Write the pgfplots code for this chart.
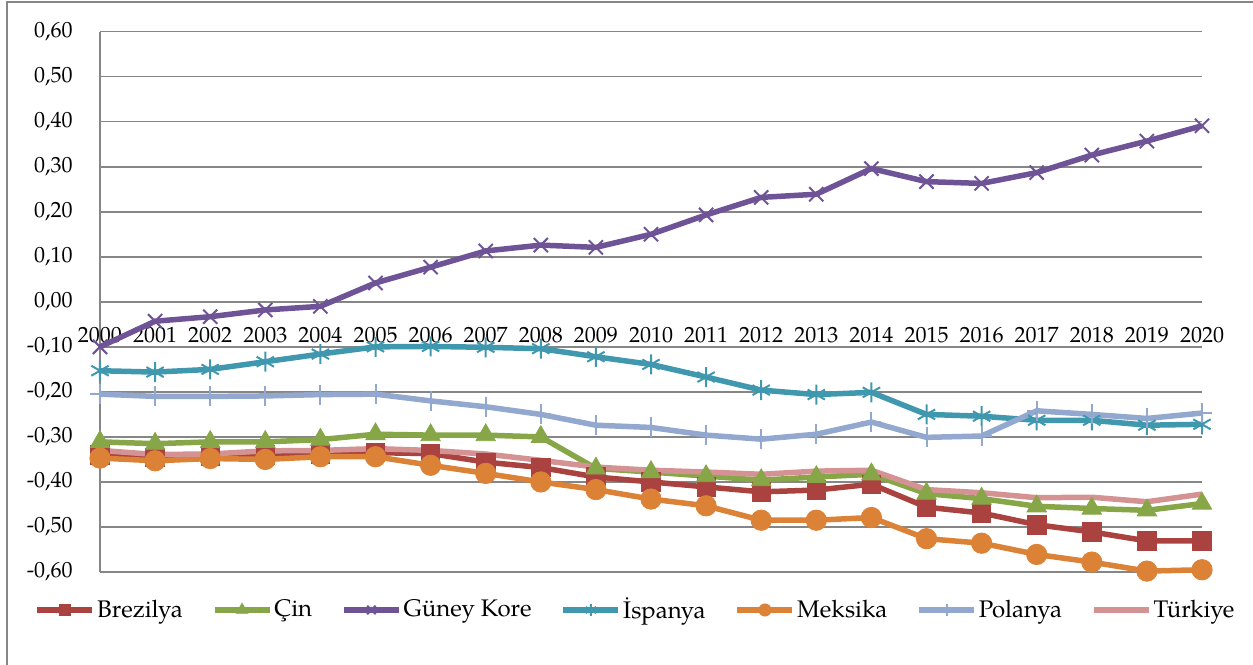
\documentclass[border=0pt]{standalone}
\usepackage{fontspec}
\setmainfont{TeX Gyre Pagella}
\usepackage{pgfplots}
\usepackage{pgfplotstable}
\pgfplotsset{compat=1.18}
\definecolor{gridc}{RGB}{134,134,134}
\definecolor{cBR}{RGB}{170,66,63}
\definecolor{cCN}{RGB}{134,166,71}
\definecolor{cKR}{RGB}{110,84,150}
\definecolor{cES}{RGB}{64,152,175}
\definecolor{cMX}{RGB}{220,130,55}
\definecolor{cPL}{RGB}{146,168,207}
\definecolor{cTR}{RGB}{212,146,146}
\pgfplotstableread{
year br cn kr es mx pl tr
2000 -0.340 -0.311 -0.100 -0.153 -0.347 -0.205 -0.330
2001 -0.345 -0.315 -0.043 -0.156 -0.353 -0.210 -0.339
2002 -0.342 -0.311 -0.033 -0.150 -0.348 -0.210 -0.338
2003 -0.340 -0.311 -0.018 -0.133 -0.350 -0.209 -0.331
2004 -0.338 -0.306 -0.010 -0.116 -0.344 -0.206 -0.330
2005 -0.335 -0.294 0.042 -0.100 -0.344 -0.205 -0.326
2006 -0.337 -0.296 0.077 -0.099 -0.363 -0.220 -0.330
2007 -0.356 -0.296 0.113 -0.101 -0.381 -0.233 -0.338
2008 -0.368 -0.300 0.126 -0.104 -0.400 -0.250 -0.352
2009 -0.389 -0.370 0.121 -0.122 -0.417 -0.274 -0.367
2010 -0.400 -0.378 0.150 -0.139 -0.438 -0.279 -0.374
2011 -0.411 -0.387 0.193 -0.167 -0.453 -0.296 -0.378
2012 -0.422 -0.396 0.232 -0.196 -0.485 -0.305 -0.383
2013 -0.418 -0.389 0.239 -0.206 -0.485 -0.294 -0.376
2014 -0.405 -0.383 0.296 -0.201 -0.479 -0.267 -0.374
2015 -0.456 -0.426 0.267 -0.250 -0.526 -0.301 -0.417
2016 -0.469 -0.437 0.263 -0.254 -0.536 -0.298 -0.424
2017 -0.495 -0.454 0.287 -0.263 -0.561 -0.242 -0.435
2018 -0.511 -0.459 0.326 -0.263 -0.578 -0.250 -0.434
2019 -0.531 -0.463 0.357 -0.274 -0.598 -0.259 -0.444
2020 -0.531 -0.448 0.391 -0.272 -0.595 -0.247 -0.427
}\datatable
\begin{document}
\begin{tikzpicture}
\begin{axis}[
  at={(50pt,46pt)}, anchor=south west,
  scale only axis, width=551pt, height=270.15pt,
  xmin=2000, xmax=2020, ymin=-0.6, ymax=0.6,
  axis x line*=middle, axis y line*=left,
  axis line style={draw=gridc, line width=0.75pt},
  hide obscured x ticks=false, hide obscured y ticks=false,
  xtick={2000,2001,...,2020},
  /pgf/number format/assume math mode=true,
  xticklabel style={/pgf/number format/1000 sep={}, anchor=center, inner sep=0pt, yshift=-16.5pt, font=\fontsize{11}{13}\selectfont},
  ytick={-0.6,-0.5,-0.4,-0.3,-0.2,-0.1,0,0.1,0.2,0.3,0.4,0.5,0.6},
  yticklabels={{-0,60},{-0,50},{-0,40},{-0,30},{-0,20},{-0,10},{0,00},{0,10},{0,20},{0,30},{0,40},{0,50},{0,60}},
  yticklabel style={anchor=east, inner sep=0pt, xshift=-13.5pt, font=\fontsize{11}{13}\selectfont},
  major tick length=0pt,
  ymajorgrids, grid style={draw=gridc, line width=0.75pt},
  clip=false,
  every axis plot/.append style={line width=2.75pt},
  legend style={at={(0.4855,-0.0703)}, anchor=center, draw=none, fill=none,
    font=\fontsize{12}{14}\selectfont, inner sep=0pt,
    /tikz/every odd column/.append style={column sep=0.5pt},
    /tikz/every even column/.append style={column sep=14pt},
    nodes={inner sep=0.5pt}},
  legend columns=-1,
  legend image code/.code={\draw[mark repeat=2,mark phase=2,/tikz/every mark/.append style={scale=0.6}] plot coordinates {(0pt,0pt) (13.75pt,0pt) (27.5pt,0pt)};},
]
\addplot[color=cBR, mark=square*, mark size=4.6pt, mark options={line width=0.4pt}] table[x=year,y=br]{\datatable};
\addlegendentry{Brezilya}
\addplot[color=cCN, mark=triangle*, mark size=5.6pt, mark options={line width=0.4pt}] table[x=year,y=cn]{\datatable};
\addlegendentry{Çin}
\addplot[color=cKR, mark=x, mark size=5pt, mark options={line width=1pt}] table[x=year,y=kr]{\datatable};
\addlegendentry{Güney Kore}
\addplot[color=cES, mark=asterisk, mark size=5pt, mark options={line width=1pt}] table[x=year,y=es]{\datatable};
\addlegendentry{İspanya}
\addplot[color=cMX, mark=*, mark size=5.1pt, mark options={line width=0.4pt}] table[x=year,y=mx]{\datatable};
\addlegendentry{Meksika}
\addplot[color=cPL, mark=+, mark size=5pt, mark options={line width=1pt}] table[x=year,y=pl]{\datatable};
\addlegendentry{Polanya}
\addplot[color=cTR, mark=none] table[x=year,y=tr]{\datatable};
\addlegendentry{Türkiye}
\end{axis}
\draw[gridc, line width=0.75pt] (3.5pt,-20pt) rectangle (660pt,331pt);
\pgfresetboundingbox
\path[use as bounding box] (0,0) rectangle (626.5pt,332pt);
\end{tikzpicture}
\end{document}
